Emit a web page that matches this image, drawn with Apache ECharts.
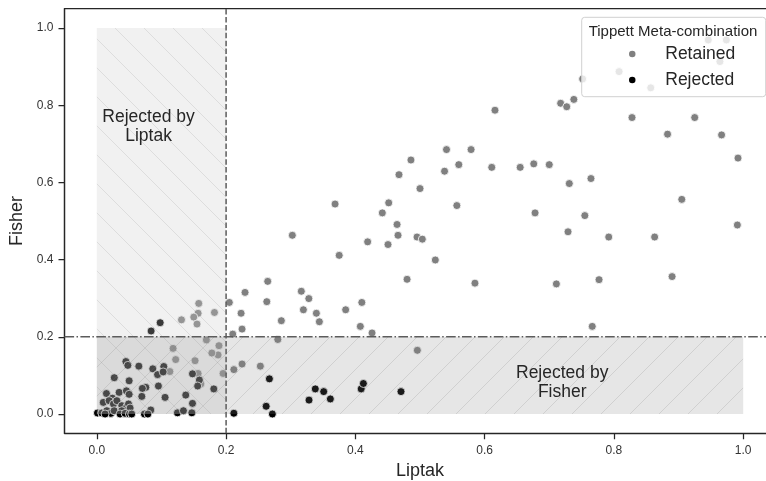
<!DOCTYPE html>
<html>
<head>
<meta charset="utf-8">
<script src="https://cdn.jsdelivr.net/npm/echarts@6/dist/echarts.min.js"></script>
<style>html,body{margin:0;padding:0;background:#fff}#c{width:766px;height:481px}</style>
</head>
<body>
<div id="c"></div>
<script>
// ---- data ----
const tickValues = [0, 0.2, 0.4, 0.6, 0.8, 1.0];
const xName = 'Liptak';
const yName = 'Fisher';
const legendTitle = 'Tippett Meta-combination';
const seriesNames = ['Retained', 'Rejected'];

const retained = [
  [0.3686,0.544],[0.4417,0.521],[0.4516,0.547],[0.4675,0.620],[0.486,0.658],[0.500,0.584],[0.538,0.629],[0.541,0.685],[0.560,0.646],[0.557,0.540],[0.579,0.685],[0.611,0.639],[0.616,0.787],[0.655,0.639],[0.676,0.648],[0.678,0.521],[0.700,0.646],
  [0.7176,0.805],[0.727,0.796],[0.738,0.815],[0.7516,0.868],[0.808,0.887],[0.857,0.845],[0.946,0.969],[0.974,0.969],[0.964,0.913],[0.828,0.768],[0.925,0.768],[0.883,0.725],[0.9666,0.723],[0.992,0.663],[0.731,0.597],[0.7645,0.610],[0.905,0.556],[0.755,0.514],
  [0.729,0.472],[0.792,0.4585],[0.863,0.4585],[0.991,0.4896],[0.711,0.337],[0.777,0.348],[0.890,0.356],[0.7665,0.227],
  [0.4645,0.491],[0.466,0.463],[0.419,0.446],[0.4505,0.439],[0.4954,0.4585],[0.5036,0.453],[0.375,0.411],[0.5237,0.399],[0.480,0.349],[0.585,0.339],
  [0.3164,0.318],[0.328,0.299],[0.3196,0.270],[0.3397,0.261],[0.3443,0.239],[0.385,0.270],[0.410,0.289],[0.4077,0.227],[0.4258,0.210],[0.4959,0.165],
  [0.3025,0.463],[0.2644,0.3436],[0.2293,0.315],[0.205,0.289],[0.263,0.291],[0.2232,0.261],[0.2855,0.2417],[0.2247,0.220],[0.2103,0.207],[0.280,0.193],
  [0.1577,0.2865],[0.1567,0.261],[0.150,0.251],[0.155,0.233],[0.131,0.244],[0.182,0.263],
  [0.1695,0.192],[0.189,0.177],[0.1876,0.153],[0.178,0.158],[0.118,0.170],[0.122,0.141],[0.152,0.138],[0.113,0.110],[0.1567,0.105],[0.1953,0.105],[0.161,0.078],
  [0.212,0.115],[0.2247,0.1295],[0.253,0.124]
];

const rejected = [
  [0.084,0.215],[0.098,0.2365],
  [0.212,0.002],[0.267,0.091],[0.262,0.020],[0.2716,0.0],[0.3283,0.036],[0.338,0.065],[0.351,0.058],[0.3613,0.039],[0.409,0.065],[0.4124,0.079],[0.4706,0.058],
  [0.045,0.136],[0.048,0.126],[0.065,0.124],[0.027,0.094],[0.050,0.086],[0.0866,0.117],[0.094,0.102],[0.1036,0.123],[0.1026,0.109],[0.148,0.104],[0.1587,0.088],[0.156,0.0725],[0.181,0.065],[0.0953,0.0725],[0.0758,0.069],[0.0705,0.0663],[0.0696,0.0456],[0.1056,0.043],[0.1376,0.049],[0.148,0.0275],
  [0.0345,0.056],[0.0458,0.060],[0.050,0.051],[0.0149,0.053],[0.024,0.041],[0.010,0.030],[0.019,0.0345],[0.0257,0.026],[0.031,0.0345],[0.0387,0.0215],[0.0464,0.019],[0.049,0.026],[0.0515,0.0155],[0.0835,0.0104],
  [0.1247,0.003],[0.134,0.0085],[0.147,0.003],[0.001,0.0026],[0.0077,0.0026],[0.0155,0.0085],[0.0217,0.0016],[0.0128,0.0],[0.0268,0.0085],[0.0387,0.0085],[0.036,0.0],[0.0438,0.0016],[0.0505,0.0],[0.054,0.0],[0.0736,0.0],[0.079,0.0]
];

// rejection regions: [xMin, yMin, xMax, yMax]
const liptakRegion = [0, 0, 0.2, 1];
const fisherRegion = [0, 0, 1, 0.2];
const threshold = 0.2;
const regionTexts = ['Rejected by\nLiptak', 'Rejected by\nFisher'];
const regionTextX = [0.08, 0.72];
const regionTextY = [0.745, 0.081];

// ---- styling helpers ----
const FONT = '"Liberation Sans", Arial, sans-serif';
const INK = '#262626';

function hatch(dir, fill, stroke) {
  const s = 29;
  const c = document.createElement('canvas');
  c.width = s; c.height = s;
  const g = c.getContext('2d');
  g.fillStyle = fill; g.fillRect(0, 0, s, s);
  g.strokeStyle = stroke; g.lineWidth = 1;
  g.beginPath();
  if (dir === '/') {
    g.moveTo(-2, s + 2); g.lineTo(s + 2, -2);
    g.moveTo(-2, 2); g.lineTo(2, -2);
    g.moveTo(s - 2, s + 2); g.lineTo(s + 2, s - 2);
  } else {
    g.moveTo(-2, -2); g.lineTo(s + 2, s + 2);
    g.moveTo(s - 2, -2); g.lineTo(s + 2, 2);
    g.moveTo(-2, s - 2); g.lineTo(2, s + 2);
  }
  g.stroke();
  return c;
}
const liptakPattern = { image: hatch('\\', 'rgba(205,205,205,0.28)', 'rgba(120,120,120,0.16)'), repeat: 'repeat' };
const fisherPattern = { image: hatch('/', 'rgba(128,128,128,0.2)', 'rgba(120,120,120,0.2)'), repeat: 'repeat' };

const chart = echarts.init(document.getElementById('c'), null, { renderer: 'canvas' });

const axisCommon = {
  type: 'value', min: -0.05, max: 1.05,
  nameLocation: 'middle',
  nameTextStyle: { fontSize: 18, color: INK, fontFamily: FONT },
  axisLine: { onZero: false, lineStyle: { color: INK, width: 1.25 } },
  axisTick: { customValues: tickValues, length: 6, lineStyle: { color: INK, width: 1.25 } },
  axisLabel: { customValues: tickValues, formatter: v => v.toFixed(1), fontSize: 12, color: '#333', fontFamily: FONT, margin: 11 },
  splitLine: { show: false }
};

chart.setOption({
  animation: false,
  backgroundColor: '#fff',
  grid: { left: 64.5, top: 8.7, width: 711, height: 424.6, outerBoundsMode: 'none', containLabel: false,
    show: true, borderColor: INK, borderWidth: 1.25, backgroundColor: 'transparent' },
  xAxis: Object.assign({}, axisCommon, { name: xName, nameGap: 29 }),
  yAxis: Object.assign({}, axisCommon, { name: yName, nameGap: 32 }),
  legend: {
    data: seriesNames, orient: 'vertical', left: 627, top: 44, padding: 0,
    itemWidth: 56, itemHeight: 8.5, itemGap: 6, z: 20,
    textStyle: { fontSize: 17.5, color: INK, fontFamily: FONT, lineHeight: 20 }
  },
  graphic: [
    { type: 'rect', z: 10, shape: { x: 581.7, y: 17.3, width: 184, height: 79.4, r: 3 },
      style: { fill: 'rgba(255,255,255,0.8)', stroke: '#d0d0d0', lineWidth: 1 } },
    { type: 'text', z: 21, x: 673, y: 31.7,
      style: { text: legendTitle, align: 'center', verticalAlign: 'middle', fontSize: 15, fontFamily: FONT, fill: INK } }
  ],
  series: [
    { name: seriesNames[0], type: 'scatter', z: 2, data: retained, symbol: 'circle', symbolSize: 8,
      itemStyle: { color: '#808080', borderColor: '#fff', borderWidth: 0.8, opacity: 1 } },
    { name: seriesNames[1], type: 'scatter', z: 2, data: rejected, symbol: 'circle', symbolSize: 8,
      itemStyle: { color: '#000000', borderColor: '#fff', borderWidth: 0.8, opacity: 1 } },
    { type: 'custom', z: 3, silent: true, clip: false,
      data: [liptakRegion.concat([0]), fisherRegion.concat([1])],
      renderItem: function (params, api) {
        const p0 = api.coord([api.value(0), api.value(3)]);
        const p1 = api.coord([api.value(2), api.value(1)]);
        return { type: 'rect', shape: { x: p0[0], y: p0[1], width: p1[0] - p0[0], height: p1[1] - p0[1] },
          style: { fill: api.value(4) === 0 ? liptakPattern : fisherPattern, stroke: null } };
      } },
    { type: 'custom', z: 4, silent: true, clip: false,
      data: [[threshold, 0], [threshold, 1]],
      renderItem: function (params, api) {
        const v = api.value(0);
        const vertical = api.value(1) === 0;
        const a = vertical ? api.coord([v, -0.05]) : api.coord([-0.05, v]);
        const b = vertical ? api.coord([v, 1.05]) : api.coord([1.05, v]);
        return { type: 'line', shape: { x1: a[0], y1: a[1], x2: b[0], y2: b[1] },
          style: { stroke: '#5c5c5c', lineWidth: 1.5, lineDash: vertical ? [5.5, 2.4] : [9.6, 2.4, 1.5, 2.4] } };
      } },
    { type: 'custom', z: 5, silent: true, clip: false,
      data: regionTexts.map((t, i) => [regionTextX[i], regionTextY[i], t]),
      renderItem: function (params, api) {
        const p = api.coord([api.value(0), api.value(1)]);
        return { type: 'text', x: p[0], y: p[1],
          style: { text: regionTexts[params.dataIndex], align: 'center', verticalAlign: 'middle', fontSize: 17.5, lineHeight: 19.5, fontFamily: FONT, fill: INK } };
      } }
  ]
});
</script>
</body>
</html>
